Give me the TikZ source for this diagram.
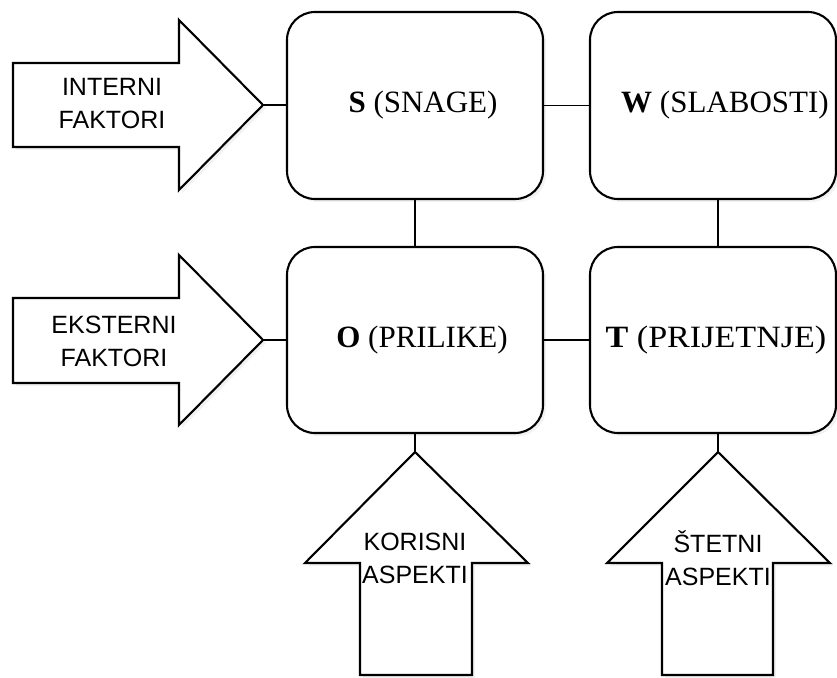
\documentclass[tikz,border=0pt]{standalone}
\usepackage{fontspec}
\setmainfont{Liberation Serif}
\setsansfont{Liberation Sans}
\usetikzlibrary{shadows}
\begin{document}
\begin{tikzpicture}[x=1pt,y=-1pt,
  soft/.style={drop shadow={opacity=0.10, shadow xshift=3pt, shadow yshift=-3pt}},
  box/.style={draw, line width=2.1pt, rounded corners=28pt, fill=white, inner sep=0pt, soft},
  wide/.style={minimum width=256pt},
  narrow/.style={minimum width=246pt},
  boxtext/.style={font=\fontsize{31}{36}\selectfont, inner sep=0pt},
  arrowshape/.style={draw, line width=2.1pt, fill=white, line join=miter, soft},
  arrowtext/.style={font=\sffamily\fontsize{25}{33}\selectfont, align=center, inner sep=0pt},
  conn/.style={draw, line width=1.9pt}]
\useasboundingbox (0,0) rectangle (837,677);
% boxes
\node[box, wide, minimum height=187pt] (S) at (415,105.5) {};
\node[box, narrow, minimum height=187pt] (W) at (713,105.5) {};
\node[box, wide, minimum height=186pt] (O) at (415,340) {};
\node[box, narrow, minimum height=186pt] (T) at (713,340) {};
\node[boxtext] (St) at (423,105) {\textbf{S} (SNAGE)};
\node[boxtext] (Wt) at (725,105) {\textbf{W} (SLABOSTI)};
\node[boxtext] (Ot) at (422,340) {\textbf{O} (PRILIKE)};
\node[boxtext, xscale=1.1] (Tt) at (716,340) {\textbf{T} (PRIJETNJE)};
% arrow tips
\coordinate (tipI) at (263,105);
\coordinate (tipE) at (263,340);
\coordinate (tipK) at (415,452);
\coordinate (tipST) at (718,452);
% big arrows
\path[arrowshape] (13,63) -- (179,63) -- (179,20) -- (tipI) -- (179,190) -- (179,147) -- (13,147) -- cycle;
\path[arrowshape] (13,298) -- (179,298) -- (179,255) -- (tipE) -- (179,425) -- (179,383) -- (13,383) -- cycle;
\path[arrowshape] (tipK) -- (528,563) -- (472,563) -- (472,675) -- (360,675) -- (360,563) -- (305,563) -- cycle;
\path[arrowshape] (tipST) -- (830,563) -- (773,563) -- (773,675) -- (662,675) -- (662,563) -- (607,563) -- cycle;
\node[arrowtext] (It) at (112,104) {INTERNI\\FAKTORI};
\node[arrowtext] (Et) at (114,341) {EKSTERNI\\FAKTORI};
\node[arrowtext] (Kt) at (415,558) {KORISNI\\ASPEKTI};
\node[arrowtext] (STt) at (718,558) {ŠTETNI\\ASPEKTI};
% connectors
\draw[conn] (tipI) -- (S.west |- tipI);
\draw[conn] (tipE) -- (O.west |- tipE);
\draw[conn] (S.east) -- (W.west);
\draw[conn] (O.east) -- (T.west);
\draw[conn] (S.south) -- (O.north);
\draw[conn] (W.south -| tipST) -- (T.north -| tipST);
\draw[conn] (O.south -| tipK) -- (tipK);
\draw[conn] (T.south -| tipST) -- (tipST);
\end{tikzpicture}
\end{document}
